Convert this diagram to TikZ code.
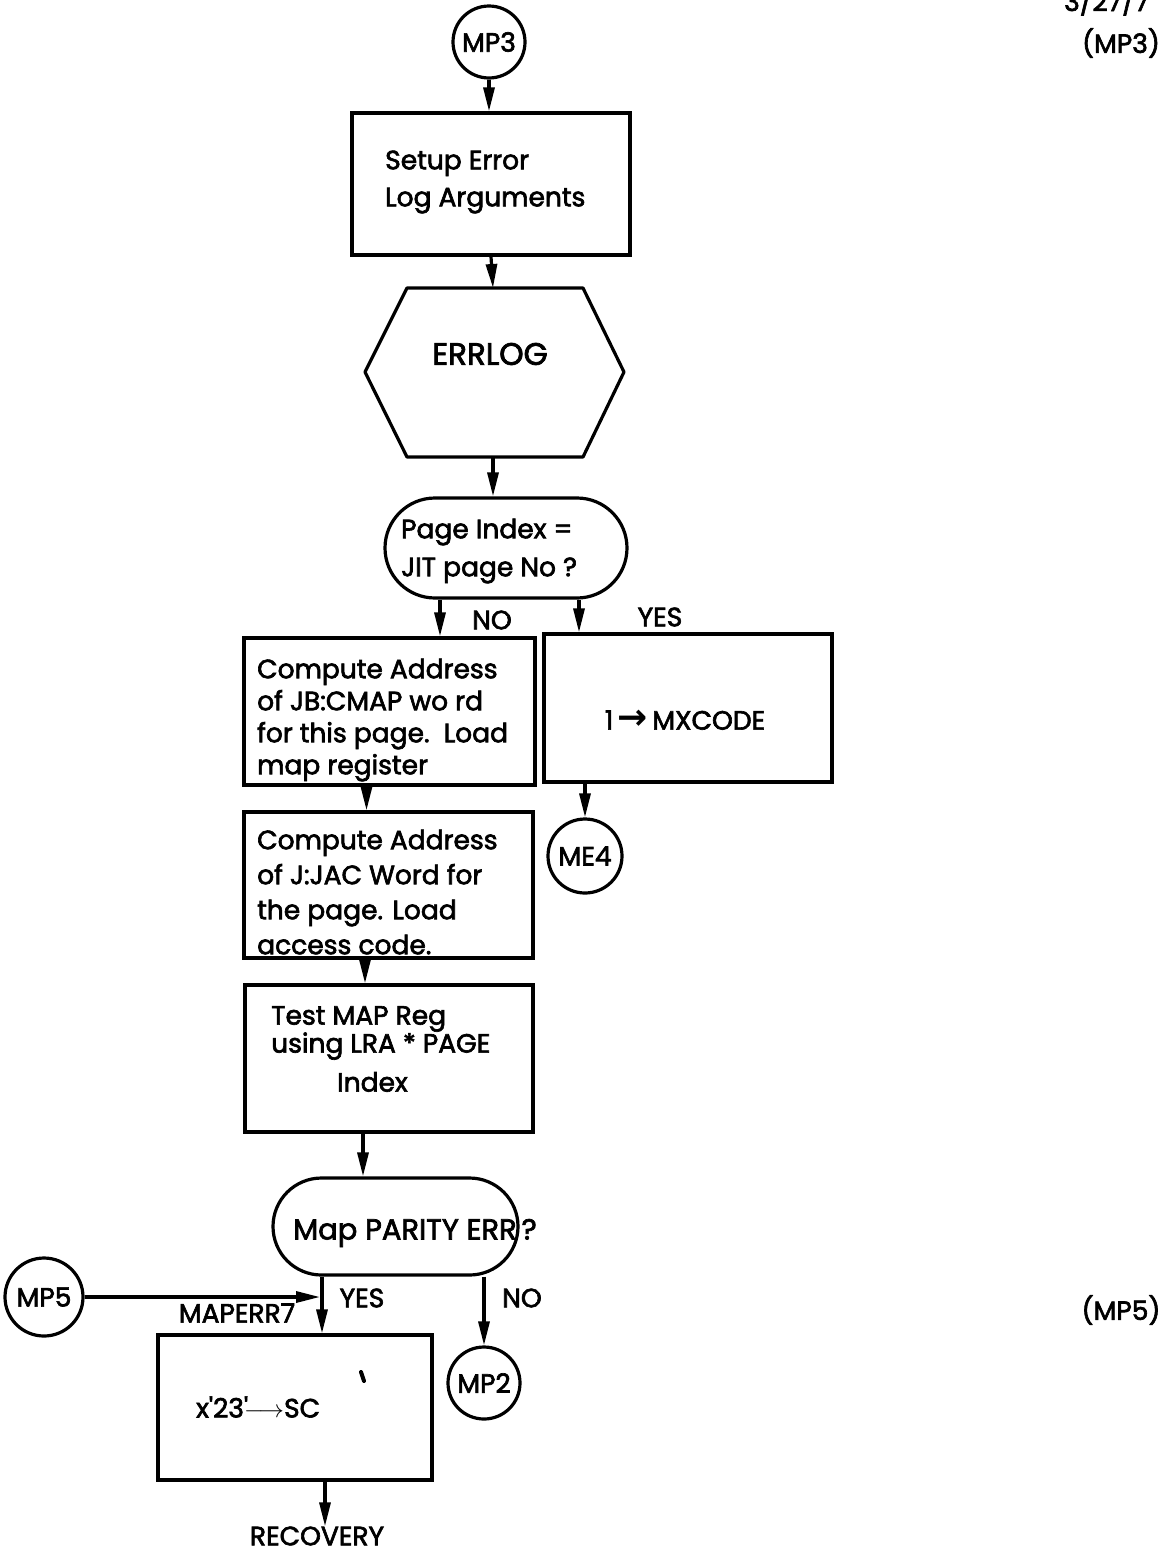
\documentclass[tikz,border=0pt]{standalone}
\usepackage{fontspec}
\setmainfont{Poppins}[FakeBold=2.4]
\newfontfamily\arrfont{DejaVu Sans}
\usetikzlibrary{arrows.meta,shapes.misc,calc}
\tikzset{
  ln/.style={line width=3.2pt},
  arr/.style={ln,-{Triangle[length=24pt,width=11pt]}},
  box/.style={draw,ln,rectangle,inner sep=0pt},
  conn/.style={draw,ln,circle,inner sep=0pt,minimum size=72pt},
  dec/.style={draw,ln,rounded rectangle,inner sep=0pt},
  txt/.style={inner sep=0pt,align=left},
}
\begin{document}
\begin{tikzpicture}[x=1pt,y=-1pt,every node/.style={font=\fontsize{26.5}{34}\selectfont}]
\useasboundingbox (0,0) rectangle (1163,1553);
\fill[white] (0,0) rectangle (1163,1553);
\begin{scope}
\clip (0,0) rectangle (1163,1553);
\node[txt,anchor=base west] (date) at (1064,11) {3/27/7};
\end{scope}
\node[txt] (mp3r) at (1121,43) {(MP3)};
\node[txt] (mp5r) at (1121,1310) {(MP5)};

% shapes
\node[conn] (mp3) at (489,42) {MP3};
\node[box,minimum width=278pt,minimum height=142pt] (setup) at (491,184) {};
\node[txt,anchor=west,font=\fontsize{26.5}{37}\selectfont] (setupt) at (385,182) {Setup Error\\Log Arguments};
\draw[ln,line join=round] (407,288) -- (583,288) -- (624,372) -- (583,457) -- (407,457) -- (365,372) -- cycle;
\coordinate (hexT) at (493,288);
\coordinate (hexB) at (493,457);
\node[txt,font=\fontsize{31}{36}\selectfont] (errlog) at (490,354) {ERRLOG};

\node[dec,minimum width=242pt,minimum height=100pt] (dec1) at (506,548) {};
\node[txt,anchor=west,font=\fontsize{26.5}{38}\selectfont] (dec1t) at (401,551) {Page Index =\\JIT page No ?};

\node[box,minimum width=291pt,minimum height=147pt] (noA) at (389.5,711.5) {};
\node[txt,anchor=west,font=\fontsize{26.5}{32}\selectfont] (noAt) at (257,720)
  {Compute Address\\of JB:CMAP wo rd\\for this page.\ \ Load\\map register};
\node[box,minimum width=288pt,minimum height=148pt] (yes) at (688,708) {};
\node[txt] (yest) at (685,720) {1\,{\arrfont\bfseries\fontsize{36}{36}\selectfont →}\,MXCODE};
\node[conn,minimum size=74pt] (me4) at (585,856) {ME4};

\node[box,minimum width=289pt,minimum height=146pt] (noB) at (388.5,885) {};
\node[txt,anchor=west,font=\fontsize{26.5}{35}\selectfont] (noBt) at (257,892)
  {Compute Address\\of J:JAC Word for\\the page. Load\\access code.};
\node[box,minimum width=288pt,minimum height=147pt] (test) at (389,1058.5) {};
\node[txt,anchor=west] (testt) at (271,1049)
  {Test MAP Reg\\[-6pt]using LRA * PAGE\\[5pt]\hspace*{66pt}Index};

\node[dec,minimum width=245pt,minimum height=97pt] (dec2) at (395.5,1226.5) {};
\node[txt,anchor=west,font=\fontsize{29}{34}\selectfont] (dec2t) at (293,1233) {Map PARITY ERR\,?};

\node[conn,minimum size=78pt] (mp5) at (44,1297) {MP5};
\node[conn,minimum size=72pt] (mp2) at (484,1383) {MP2};
\node[box,minimum width=274pt,minimum height=145pt] (sc) at (295,1407.5) {};
\node[txt,anchor=west] (sct) at (196,1407) {x\textquotesingle 23\textquotesingle$\!\longrightarrow$SC};
\draw[line width=4pt,line cap=round] (361,1372) -- (364,1381);
\node[txt] (recov) at (317,1536) {RECOVERY};

% labels
\node[txt] (no1) at (492,620) {NO};
\node[txt] (yes1) at (660,617) {YES};
\node[txt] (yes2) at (362,1298) {YES};
\node[txt] (no2) at (522,1298) {NO};
\node[txt] (maperr) at (237,1313) {MAPERR7};

% arrows
\draw[arr] (mp3.south) -- (mp3.south |- setup.north);
\draw[arr] (setup.south) -- (hexT);
\draw[arr] (hexB) -- (hexB |- dec1.north);
\coordinate (d1l) at ($(dec1.south)+(-66,0)$);
\coordinate (d1r) at ($(dec1.south)+(73,0)$);
\draw[arr] (d1l) -- (d1l |- noA.north);
\draw[arr] (d1r) -- (d1r |- yes.north);
\coordinate (nAb) at ($(noA.south)+(-23,0)$);
\draw[arr] (nAb) -- (nAb |- noB.north);
\draw[arr] (me4 |- yes.south) -- (me4.north);
\coordinate (nBb) at ($(noB.south)+(-23.5,0)$);
\draw[arr] (nBb) -- (nBb |- test.north);
\coordinate (tb) at ($(test.south)+(-26,0)$);
\draw[arr] (tb) -- (tb |- dec2.north);
\coordinate (d2l) at ($(dec2.south)+(-73.5,0)$);
\draw[arr] (d2l) -- (d2l |- sc.north);
\draw[arr] (mp2.north |- dec2.south) -- (mp2.north);
\coordinate (mjoin) at ($(d2l)+(-2,20)$);
\draw[arr] (mp5.east) -- (mp5.east -| mjoin);
\coordinate (scb) at ($(sc.south)+(30,0)$);
\draw[arr] (scb) -- (scb |- recov.north);
\end{tikzpicture}
\end{document}
